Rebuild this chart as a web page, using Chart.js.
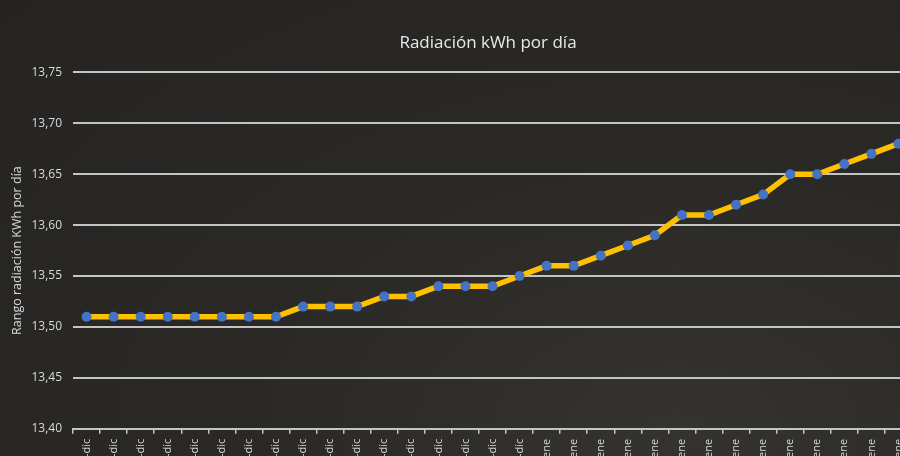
<!DOCTYPE html>
<html>
<head>
<meta charset="utf-8">
<script src="https://cdn.jsdelivr.net/npm/chart.js@4.4.1/dist/chart.umd.min.js"></script>
<style>
  html, body { margin: 0; padding: 0; overflow: hidden; width: 900px; height: 456px; }
  body { background: radial-gradient(ellipse at 75% 95%, #34332f 0%, #2a2926 45%, #252422 100%); }
  #wrap { position: absolute; left: 0; top: 0; width: 976px; height: 479px; }
</style>
</head>
<body>
<div id="wrap"><canvas id="chart" width="976" height="479"></canvas></div>
<script>
var days = [
  "15-dic", "16-dic", "17-dic", "18-dic", "19-dic", "20-dic", "21-dic", "22-dic",
  "23-dic", "24-dic", "25-dic", "26-dic", "27-dic", "28-dic", "29-dic", "30-dic", "31-dic",
  "1-ene", "2-ene", "3-ene", "4-ene", "5-ene", "6-ene", "7-ene",
  "8-ene", "9-ene", "10-ene", "11-ene", "12-ene", "13-ene", "14-ene"
]
var radiacion = [
  13.51, 13.51, 13.51, 13.51, 13.51, 13.51, 13.51, 13.51,
  13.52, 13.52, 13.52, 13.53, 13.53, 13.54, 13.54, 13.54, 13.55,
  13.56, 13.56, 13.57, 13.58, 13.59, 13.61, 13.61,
  13.62, 13.63, 13.65, 13.65, 13.66, 13.67, 13.68
]
var yMin = 13.40
var yMax = 13.75
var yStep = 0.05

var txt = '#d9d9d9'
var gridCol = '#c4c4c4'

var ctx = document.getElementById("chart").getContext('2d')
var newchart = new Chart(ctx, {
  type: 'line',
  data: {
    labels: days,
    datasets: [{
      label: "Radiación",
      data: radiacion,
      borderColor: '#ffc000',
      borderWidth: 5.5,
      backgroundColor: '#4472c4',
      pointBackgroundColor: '#4472c4',
      pointBorderColor: '#4472c4',
      pointBorderWidth: 0,
      pointRadius: 5,
      tension: 0
    }]
  },
  options: {
    responsive: false,
    animation: false,
    layout: { padding: { left: 0, right: 0, top: 14, bottom: 0 } },
    plugins: {
      legend: { display: false },
      tooltip: { enabled: false },
      title: {
        display: true,
        text: "Radiación kWh por día",
        color: '#e8e8e8',
        font: { family: 'Open Sans', size: 17, weight: 'normal' },
        padding: { top: 19, bottom: 19 }
      }
    },
    scales: {
      x: {
        offset: true,
        grid: { drawOnChartArea: false, drawTicks: true, tickLength: 5, color: gridCol, lineWidth: 1.5, offset: true },
        border: { display: true, color: gridCol, width: 2 },
        ticks: {
          color: txt, autoSkip: false, minRotation: 90, maxRotation: 90,
          font: { family: 'Open Sans', size: 11 }, padding: 5
        }
      },
      y: {
        min: yMin,
        max: yMax,
        afterFit: function(s) { s.width = 73 },
        grid: { color: gridCol, lineWidth: 2, drawTicks: false },
        border: { display: false },
        ticks: {
          stepSize: yStep,
          color: txt,
          padding: 11,
          font: { family: 'Open Sans', size: 12 },
          callback: function(v) { return v.toFixed(2).replace('.', ',') }
        },
        title: {
          display: true,
          text: "Rango radiación KWh por día",
          color: txt,
          font: { family: 'Open Sans', size: 12.5 },
          padding: { top: 10, bottom: 0 }
        }
      },
      // empty right axis: keeps the plot running past the window edge
      r: {
        position: 'right',
        display: true,
        afterFit: function(s) { s.width = 64 },
        grid: { display: false },
        border: { display: false },
        ticks: { display: false }
      }
    }
  }
})
</script>
</body>
</html>
